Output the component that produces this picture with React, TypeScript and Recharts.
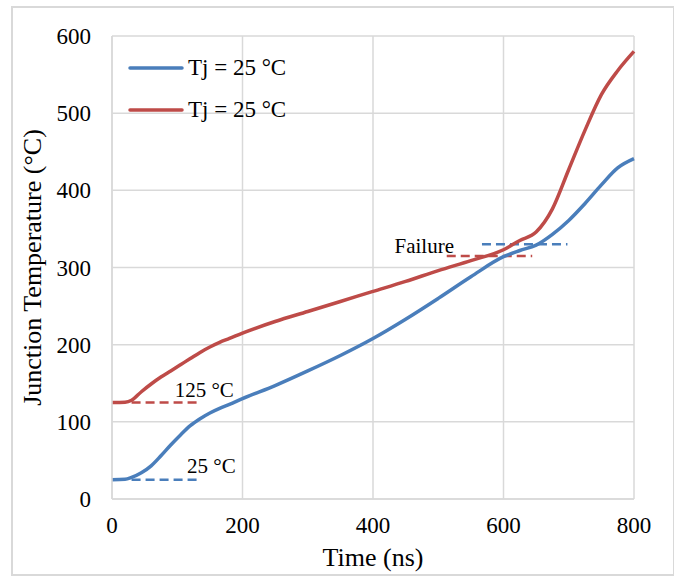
import React from 'react'
import {
  ComposedChart,
  Line,
  XAxis,
  YAxis,
  CartesianGrid,
  Legend,
  ReferenceLine,
  ReferenceDot,
} from 'recharts'

// time axis (ns)
const time = [0, 20, 30, 45, 60, 75, 90, 105, 120, 135, 150, 165, 180, 200, 250, 300, 350, 400, 450, 500, 550, 600, 625, 650, 675, 700, 725, 750, 775, 800]
// junction temperature, starting from 25 °C
const tjLow = [25, 25.5, 28, 34, 43, 56, 70, 83, 95, 104, 111.5, 117.5, 122.5, 130, 147, 166, 186, 208, 233, 260, 288, 314, 322, 329, 343, 361, 383, 407, 429, 441]
// junction temperature, starting from 125 °C
const tjHigh = [125, 125.5, 128, 139, 149, 158, 166, 174, 182, 190, 197, 203, 208, 215, 230, 243, 256, 269, 282, 296, 309, 323, 335, 346, 376, 427, 478, 524, 555, 580]

const xTicks = [0, 200, 400, 600, 800]
const yTicks = [0, 100, 200, 300, 400, 500, 600]

const seriesNames = ['Tj = 25 °C', 'Tj = 25 °C']

// dashed markers: [x1, x2, y]
const startLow = [30, 132, 25]
const startHigh = [30, 132, 125]
const failLow = [567, 698, 330]
const failHigh = [513, 644, 315]

// annotation text: [label, x, y]
const notes: [string, number, number][] = [
  ['125 °C', 96, 142],
  ['25 °C', 115, 44],
  ['Failure', 433, 328],
]

const BLUE = '#4A7EBB'
const RED = '#BE4B48'
const GRID = '#d9d9d9'
const FONT = '"Liberation Serif", "Times New Roman", serif'

const data = time.map((t, i) => ({ t, low: tjLow[i], high: tjHigh[i] }))

const renderLegend = () => (
  <div style={{ fontFamily: FONT, fontSize: 23, color: '#000' }}>
    {[BLUE, RED].map((c, i) => (
      <div key={i} style={{ display: 'flex', alignItems: 'center', height: 42 }}>
        <svg width={56} height={10} style={{ marginRight: 4 }}>
          <line x1={2} y1={5} x2={54} y2={5} stroke={c} strokeWidth={3.5} strokeLinecap="round" />
        </svg>
        <span>{seriesNames[i]}</span>
      </div>
    ))}
  </div>
)

const dashLine = (seg: number[], color: string, key: string) => (
  <ReferenceLine
    key={key}
    segment={[{ x: seg[0], y: seg[2] }, { x: seg[1], y: seg[2] }]}
    stroke={color}
    strokeWidth={2.5}
    strokeDasharray="9 5"
    ifOverflow="visible"
  />
)

export default function App() {
  return (
    <div style={{ position: 'absolute', left: 0, top: 0, width: 674, height: 578, background: '#fff', fontFamily: FONT }}>
      <div
        style={{
          position: 'absolute',
          left: 11,
          top: 6,
          width: 664,
          height: 570,
          border: `2px solid ${GRID}`,
          boxSizing: 'border-box',
        }}
      />
      <ComposedChart
        width={674}
        height={578}
        data={data}
        margin={{ top: 36, right: 40, bottom: 0, left: 0 }}
        style={{ position: 'absolute', left: 0, top: 0 }}
      >
        <CartesianGrid stroke={GRID} strokeWidth={1.5} horizontalValues={yTicks} verticalValues={xTicks} />
        <XAxis
          dataKey="t"
          type="number"
          domain={[0, 800]}
          ticks={xTicks}
          height={79}
          tickLine={false}
          tickSize={6}
          tickMargin={12}
          axisLine={{ stroke: GRID, strokeWidth: 1.5 }}
          tick={{ fill: '#000', fontSize: 23, fontFamily: FONT }}
          label={{ value: 'Time (ns)', position: 'insideBottom', offset: 12, fill: '#000', fontSize: 26, fontFamily: FONT }}
        />
        <YAxis
          type="number"
          domain={[0, 600]}
          ticks={yTicks}
          width={112}
          tickLine={false}
          tickSize={6}
          tickMargin={15}
          axisLine={{ stroke: GRID, strokeWidth: 1.5 }}
          tick={{ fill: '#000', fontSize: 23, fontFamily: FONT }}
          label={{
            value: 'Junction Temperature (°C)',
            angle: -90,
            position: 'insideLeft',
            offset: 32,
            fill: '#000',
            fontSize: 26,
            fontFamily: FONT,
            style: { textAnchor: 'middle' },
          }}
        />
        <Legend
          layout="vertical"
          verticalAlign="middle"
          align="center"
          content={renderLegend}
          wrapperStyle={{ top: 47, left: 128, width: 'auto' }}
        />
        {dashLine(startLow, BLUE, 'sl')}
        {dashLine(startHigh, RED, 'sh')}
        {dashLine(failLow, BLUE, 'fl')}
        {dashLine(failHigh, RED, 'fh')}
        <Line
          type="monotone"
          dataKey="low"
          name={seriesNames[0]}
          stroke={BLUE}
          strokeWidth={3.5}
          dot={false}
          isAnimationActive={false}
        />
        <Line
          type="monotone"
          dataKey="high"
          name={seriesNames[1]}
          stroke={RED}
          strokeWidth={3.5}
          dot={false}
          isAnimationActive={false}
        />
        {notes.map(([text, x, y]) => (
          <ReferenceDot
            key={text}
            x={x}
            y={y}
            r={0}
            stroke="none"
            fill="none"
            ifOverflow="visible"
            label={{ value: text, position: 'right', offset: 0, fill: '#000', fontSize: 21, fontFamily: FONT }}
          />
        ))}
      </ComposedChart>
    </div>
  )
}
